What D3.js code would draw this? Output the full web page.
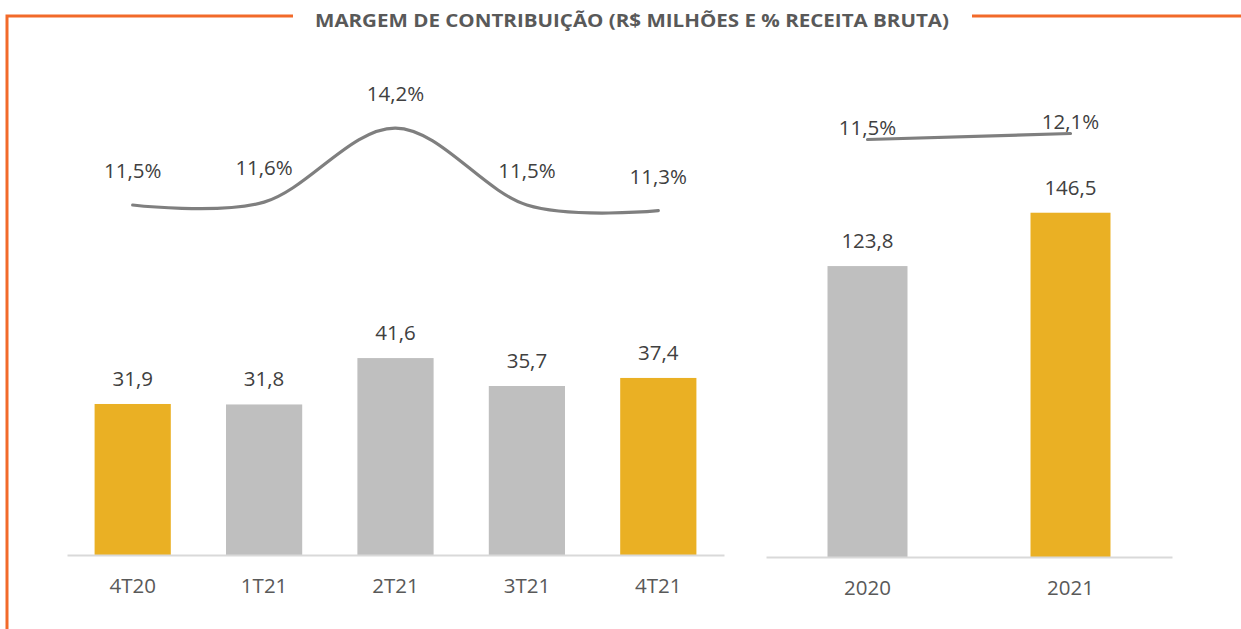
<!DOCTYPE html>
<html>
<head>
<meta charset="utf-8">
<script src="https://cdn.jsdelivr.net/npm/d3@7"></script>
<style>
  html, body { margin: 0; padding: 0; background: #fff; }
  svg { display: block; }
  text { font-family: "Open Sans", "Noto Sans", sans-serif; }
</style>
</head>
<body>
<svg id="chart" width="1241" height="629"></svg>
<script>
// ---- data ----
const title = "MARGEM DE CONTRIBUIÇÃO (R$ MILHÕES E % RECEITA BRUTA)";
const quarterCategories = ["4T20", "1T21", "2T21", "3T21", "4T21"];
const quarterValues = [31.9, 31.8, 41.6, 35.7, 37.4];
const quarterMargins = [11.5, 11.6, 14.2, 11.5, 11.3];
const quarterHighlight = [true, false, false, false, true];
const yearCategories = ["2020", "2021"];
const yearValues = [123.8, 146.5];
const yearMargins = [11.5, 12.1];
const yearHighlight = [false, true];

// ---- styles ----
const ORANGE = "#f26a2a";
const GOLD = "#eab024";
const GREY = "#bfbfbf";
const LINE = "#7f7f7f";
const AXIS = "#d9d9d9";
const LABEL = "#404040";
const CAT = "#595959";
const FS = 20.5;

const fmt = v => v.toFixed(1).replace(".", ",");
const fmtPct = v => v.toFixed(1).replace(".", ",") + "%";

const svg = d3.select("#chart");

// frame
svg.append("path")
  .attr("d", "M7,629 L7,16 L293,16")
  .attr("fill", "none").attr("stroke", ORANGE).attr("stroke-width", 3);
svg.append("line")
  .attr("x1", 972).attr("x2", 1241).attr("y1", 16).attr("y2", 16)
  .attr("stroke", ORANGE).attr("stroke-width", 3);

svg.append("text")
  .attr("x", 632).attr("y", 27)
  .attr("text-anchor", "middle")
  .attr("font-weight", "bold")
  .attr("font-size", 17)
  .attr("fill", CAT)
  .attr("textLength", 634)
  .attr("lengthAdjust", "spacingAndGlyphs")
  .text(title);

function panel(cfg) {
  const g = svg.append("g");
  const x = d3.scaleBand().domain(cfg.cats).range(cfg.xRange).paddingInner(cfg.pad).paddingOuter(cfg.pad / 2);
  const yB = d3.scaleLinear().domain(cfg.barDomain).range([cfg.base, cfg.barTop]);
  const yL = d3.scaleLinear().domain(cfg.lineDomain).range(cfg.lineRange);

  // bars
  g.selectAll("rect.bar").data(cfg.values).join("rect")
    .attr("class", "bar")
    .attr("x", (d, i) => x(cfg.cats[i]))
    .attr("width", x.bandwidth())
    .attr("y", d => yB(d))
    .attr("height", d => yB(0) - yB(d))
    .attr("fill", (d, i) => cfg.hl[i] ? GOLD : GREY);

  // axis line
  const axis = d3.axisBottom(x).tickSize(0).tickPadding(cfg.tickPad).tickFormat(d => d);
  const ag = g.append("g").attr("transform", `translate(0,${cfg.base})`).call(axis);
  ag.select(".domain").attr("stroke", AXIS).attr("stroke-width", 2);
  ag.selectAll("text").attr("font-size", FS).attr("fill", CAT)
    .attr("font-family", '"Open Sans", sans-serif');

  // bar labels
  g.selectAll("text.bl").data(cfg.values).join("text")
    .attr("class", "bl")
    .attr("x", (d, i) => x(cfg.cats[i]) + x.bandwidth() / 2)
    .attr("y", d => yB(d) - 18)
    .attr("text-anchor", "middle")
    .attr("font-size", FS).attr("fill", LABEL)
    .text(fmt);

  // line
  const line = d3.line()
    .x((d, i) => x(cfg.cats[i]) + x.bandwidth() / 2)
    .y(d => yL(d))
    .curve(d3.curveCardinal.tension(0));
  g.append("path").datum(cfg.margins)
    .attr("d", line)
    .attr("fill", "none").attr("stroke", LINE).attr("stroke-width", 3.2)
    .attr("stroke-linecap", "round");

  g.selectAll("text.ll").data(cfg.margins).join("text")
    .attr("class", "ll")
    .attr("x", (d, i) => x(cfg.cats[i]) + x.bandwidth() / 2)
    .attr("y", d => yL(d) - cfg.lblOff)
    .attr("text-anchor", "middle")
    .attr("font-size", FS).attr("fill", LABEL)
    .text(fmtPct);
}

panel({
  cats: quarterCategories, values: quarterValues, margins: quarterMargins, hl: quarterHighlight,
  xRange: [67, 724], pad: 0.42,
  base: 555, barTop: 555 - 236.7, barDomain: [0, 50],
  lineDomain: [11, 15], lineRange: [219.25, 105.25],
  lblOff: 27, tickPad: 23
});

panel({
  cats: yearCategories, values: yearValues, margins: yearMargins, hl: yearHighlight,
  xRange: [766, 1172], pad: 0.606,
  base: 557, barTop: 557 - 470, barDomain: [0, 200],
  lineDomain: [11, 13], lineRange: [144.5, 124.5],
  lblOff: 5, tickPad: 23
});
</script>
</body>
</html>
